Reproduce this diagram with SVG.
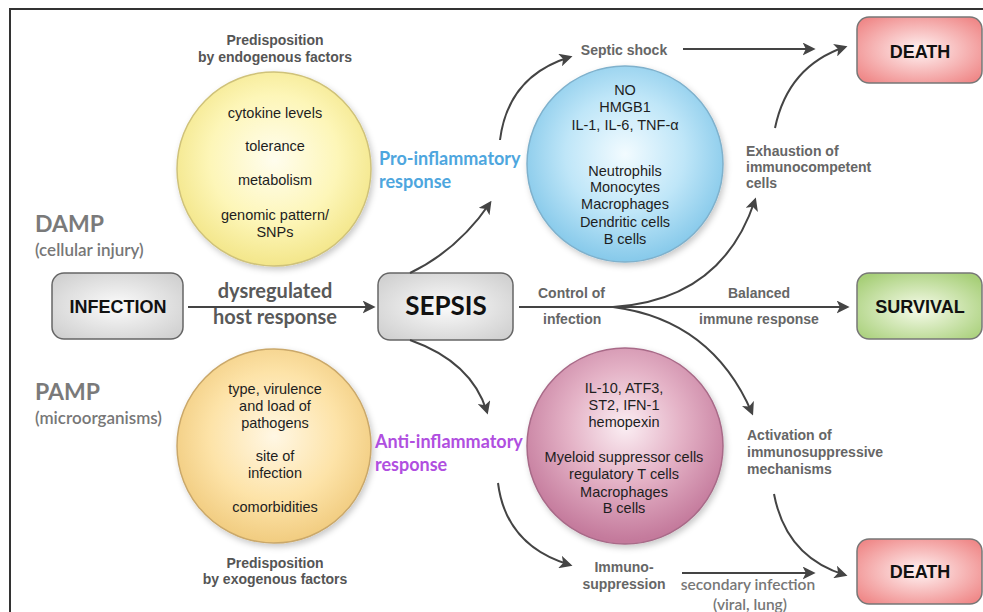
<svg xmlns="http://www.w3.org/2000/svg" width="983" height="612" viewBox="0 0 983 612">
<style>
.ct{font-family:"Liberation Sans",Arial,sans-serif;font-size:14.5px;fill:#1e1e1e;text-anchor:middle}
.hd{font-family:"Liberation Sans",Arial,sans-serif;font-size:14px;font-weight:bold;fill:#555;text-anchor:middle}
.lbl{font-family:"Liberation Sans",Arial,sans-serif;font-size:14px;font-weight:bold;fill:#666}
.bx{font-family:"Liberation Sans",Arial,sans-serif;font-size:18px;font-weight:bold;fill:#111;text-anchor:middle}
.cal{font-family:Lato,"Open Sans",sans-serif;font-weight:bold;fill:#595959}
.calr{font-family:Lato,"Open Sans",sans-serif;font-weight:600;fill:#777}
.con{fill:none;stroke:#444;stroke-width:2;marker-end:url(#ah)}
.node{stroke-width:1.5}
</style>
<defs>
<marker id="ah" viewBox="0 0 10 10" refX="8" refY="5" markerWidth="6.5" markerHeight="6.5" orient="auto" markerUnits="strokeWidth">
<path d="M0,0 L10,5 L0,10 L2.5,5 Z" fill="#444"/>
</marker>
<radialGradient id="gY" cx="50%" cy="45%" r="55%"><stop offset="0" stop-color="#fffdee"/><stop offset="0.6" stop-color="#fdf6b8"/><stop offset="1" stop-color="#f3e68a"/></radialGradient>
<radialGradient id="gO" cx="50%" cy="45%" r="55%"><stop offset="0" stop-color="#fff7e4"/><stop offset="0.6" stop-color="#fde3a8"/><stop offset="1" stop-color="#f1cc80"/></radialGradient>
<radialGradient id="gB" cx="50%" cy="45%" r="55%"><stop offset="0" stop-color="#f2fbff"/><stop offset="0.55" stop-color="#bfe6f8"/><stop offset="1" stop-color="#86c9ea"/></radialGradient>
<radialGradient id="gP" cx="50%" cy="40%" r="58%"><stop offset="0" stop-color="#fbeef3"/><stop offset="0.5" stop-color="#e4b2c6"/><stop offset="1" stop-color="#c47a9c"/></radialGradient>
<radialGradient id="gG" cx="50%" cy="50%" r="65%"><stop offset="0" stop-color="#fbfbfb"/><stop offset="1" stop-color="#cfcfcf"/></radialGradient>
<radialGradient id="gR" cx="50%" cy="50%" r="65%"><stop offset="0" stop-color="#fff2f2"/><stop offset="1" stop-color="#ef8585"/></radialGradient>
<radialGradient id="gS" cx="50%" cy="55%" r="65%"><stop offset="0" stop-color="#f6fbea"/><stop offset="1" stop-color="#a7cf78"/></radialGradient>
<filter id="sh" x="-20%" y="-20%" width="140%" height="140%"><feDropShadow dx="2" dy="3" stdDeviation="3" flood-color="#000" flood-opacity="0.22"/></filter>
</defs>
<rect x="10" y="9" width="990" height="620" fill="#fff" stroke="#333" stroke-width="2"/>

<g id="damp"><text class="cal" x="35" y="232" font-size="23" style="fill:#7a7a7a">DAMP</text><text class="calr" x="35" y="256" font-size="17">(cellular injury)</text></g>
<g id="pamp"><text class="cal" x="35" y="400" font-size="23" style="fill:#7a7a7a">PAMP</text><text class="calr" x="35" y="424" font-size="17">(microorganisms)</text></g>

<g id="endogenous">
<text class="hd" x="275" y="45">Predisposition</text><text class="hd" x="275" y="62">by endogenous factors</text>
<circle cx="274" cy="169" r="97" fill="url(#gY)" stroke="#cfc27a" class="node" filter="url(#sh)"/>
<text class="ct" x="275" y="118">cytokine levels</text>
<text class="ct" x="275" y="151">tolerance</text>
<text class="ct" x="275" y="185">metabolism</text>
<text class="ct" x="275" y="220">genomic pattern/</text>
<text class="ct" x="275" y="237">SNPs</text>
</g>

<g id="exogenous">
<circle cx="274" cy="446" r="97" fill="url(#gO)" stroke="#caa86a" class="node" filter="url(#sh)"/>
<text class="ct" x="275" y="394">type, virulence</text>
<text class="ct" x="275" y="411">and load of</text>
<text class="ct" x="275" y="428">pathogens</text>
<text class="ct" x="275" y="461">site of</text>
<text class="ct" x="275" y="478">infection</text>
<text class="ct" x="275" y="512">comorbidities</text>
<text class="hd" x="275" y="568">Predisposition</text><text class="hd" x="275" y="584">by exogenous factors</text>
</g>

<g id="pro">
<circle cx="625" cy="164" r="98" fill="url(#gB)" stroke="#7fb1cc" class="node" filter="url(#sh)"/>
<text class="ct" x="625" y="95">NO</text>
<text class="ct" x="625" y="112">HMGB1</text>
<text class="ct" x="625" y="130">IL-1, IL-6, TNF-α</text>
<text class="ct" x="625" y="176">Neutrophils</text>
<text class="ct" x="625" y="192">Monocytes</text>
<text class="ct" x="625" y="209">Macrophages</text>
<text class="ct" x="625" y="227">Dendritic cells</text>
<text class="ct" x="625" y="244">B cells</text>
</g>

<g id="anti">
<circle cx="625" cy="446" r="98" fill="url(#gP)" stroke="#a86a88" class="node" filter="url(#sh)"/>
<text class="ct" x="624" y="393">IL-10, ATF3,</text>
<text class="ct" x="624" y="410">ST2, IFN-1</text>
<text class="ct" x="624" y="427">hemopexin</text>
<text class="ct" x="624" y="462">Myeloid suppressor cells</text>
<text class="ct" x="624" y="479">regulatory T cells</text>
<text class="ct" x="624" y="497">Macrophages</text>
<text class="ct" x="624" y="513">B cells</text>
</g>

<g id="infection"><rect x="52" y="273" width="131" height="66" rx="12" fill="url(#gG)" stroke="#666" class="node"/><text class="bx" x="118" y="313">INFECTION</text></g>
<g id="sepsis"><rect x="378" y="273" width="135" height="67" rx="12" fill="url(#gG)" stroke="#666" class="node"/><text class="cal" x="446" y="315" font-size="26" text-anchor="middle" style="fill:#111">SEPSIS</text></g>
<g id="death1"><rect x="857" y="17" width="125" height="66" rx="12" fill="url(#gR)" stroke="#777" class="node"/><text class="bx" x="920" y="58">DEATH</text></g>
<g id="survival"><rect x="857" y="273" width="125" height="66" rx="12" fill="url(#gS)" stroke="#777" class="node"/><text class="bx" x="920" y="313">SURVIVAL</text></g>
<g id="death2"><rect x="857" y="539" width="125" height="65" rx="12" fill="url(#gR)" stroke="#777" class="node"/><text class="bx" x="920" y="578">DEATH</text></g>

<g id="labels">
<text class="cal" x="275" y="298" font-size="20" text-anchor="middle">dysregulated</text>
<text class="cal" x="275" y="324" font-size="20" text-anchor="middle">host response</text>
<text class="cal" x="379" y="165" font-size="18" style="fill:#4ea6de">Pro-inflammatory</text>
<text class="cal" x="379" y="188" font-size="18" style="fill:#4ea6de">response</text>
<text class="cal" x="375" y="448" font-size="18" style="fill:#b04fe0">Anti-inflammatory</text>
<text class="cal" x="375" y="471" font-size="18" style="fill:#b04fe0">response</text>
<text class="lbl" x="624" y="55" text-anchor="middle">Septic shock</text>
<text class="lbl" x="746" y="156">Exhaustion of</text>
<text class="lbl" x="746" y="172">immunocompetent</text>
<text class="lbl" x="746" y="188">cells</text>
<text class="lbl" x="538" y="298">Control of</text>
<text class="lbl" x="543" y="324">infection</text>
<text class="lbl" x="759" y="298" text-anchor="middle">Balanced</text>
<text class="lbl" x="759" y="324" text-anchor="middle">immune response</text>
<text class="lbl" x="747" y="440">Activation of</text>
<text class="lbl" x="747" y="457">immunosuppressive</text>
<text class="lbl" x="747" y="474">mechanisms</text>
<text class="lbl" x="624" y="572" text-anchor="middle">Immuno-</text>
<text class="lbl" x="624" y="589" text-anchor="middle">suppression</text>
<text class="calr" x="748" y="590" font-size="15.5" text-anchor="middle">secondary infection</text>
<text class="calr" x="750" y="610" font-size="15.5" text-anchor="middle">(viral, lung)</text>
</g>

<g id="connectors">
<path class="con" d="M188,307 L373,307"/>
<path class="con" d="M410,273 Q458,250 490,203"/>
<path class="con" d="M500,140 Q508,76 570,57"/>
<path class="con" d="M683,49 L813,49"/>
<path class="con" d="M775,128 Q788,66 845,47"/>
<path class="con" d="M519,307 L847,307"/>
<path class="con" d="M613,307 Q722,300 755,200"/>
<path class="con" d="M613,307 Q712,320 752,413"/>
<path class="con" d="M774,494 Q786,557 845,575"/>
<path class="con" d="M410,340 Q472,362 487,412"/>
<path class="con" d="M498,483 Q506,546 570,565"/>
<path class="con" d="M682,573 L813,573"/>
</g>
</svg>
